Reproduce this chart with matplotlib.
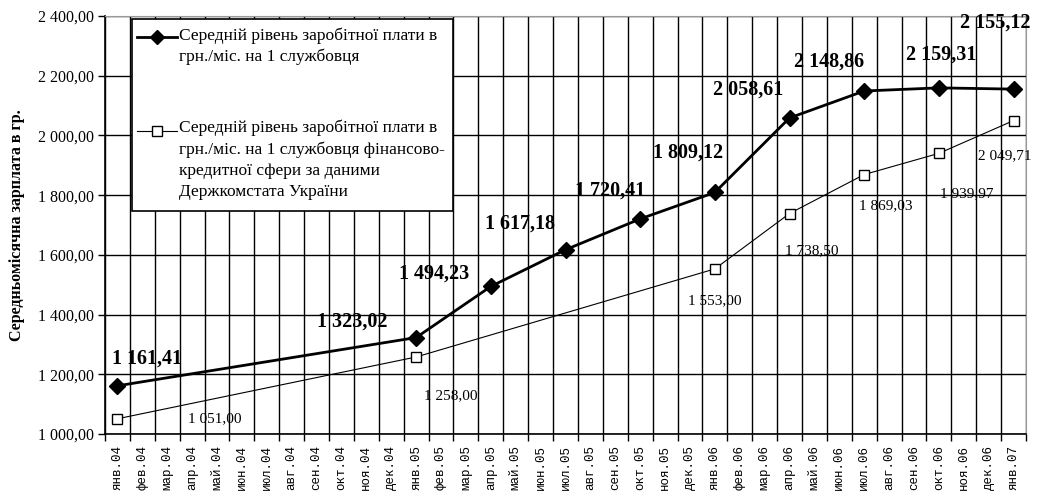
import matplotlib
matplotlib.use("Agg")
import matplotlib.pyplot as plt
from matplotlib.ticker import FixedLocator, FuncFormatter
from matplotlib.lines import Line2D
from matplotlib.patches import Rectangle

plt.rcParams['font.family'] = ['Liberation Serif', 'DejaVu Serif']

months = ['янв.04', 'фев.04', 'мар.04', 'апр.04', 'май.04', 'июн.04', 'июл.04',
          'авг.04', 'сен.04', 'окт.04', 'ноя.04', 'дек.04',
          'янв.05', 'фев.05', 'мар.05', 'апр.05', 'май.05', 'июн.05', 'июл.05',
          'авг.05', 'сен.05', 'окт.05', 'ноя.05', 'дек.05',
          'янв.06', 'фев.06', 'мар.06', 'апр.06', 'май.06', 'июн.06', 'июл.06',
          'авг.06', 'сен.06', 'окт.06', 'ноя.06', 'дек.06', 'янв.07']

# середній рівень по підприємству
firm_dates = ['янв.04', 'янв.05', 'апр.05', 'июл.05', 'окт.05', 'янв.06',
              'апр.06', 'июл.06', 'окт.06', 'янв.07']
firm_vals = [1161.41, 1323.02, 1494.23, 1617.18, 1720.41, 1809.12,
             2058.61, 2148.86, 2159.31, 2155.12]

# фінансово-кредитна сфера (Держкомстат)
fin_dates = ['янв.04', 'янв.05', 'янв.06', 'апр.06', 'июл.06', 'окт.06', 'янв.07']
fin_vals = [1051.00, 1258.00, 1553.00, 1738.50, 1869.03, 1939.97, 2049.71]

legend_labels = ['Середній рівень заробітної плати в\nгрн./міс. на 1 службовця',
                 'Середній рівень заробітної плати в\nгрн./міс. на 1 службовця фінансово-\n'
                 'кредитної сфери за даними\nДержкомстата України']

# зсуви підписів, пікселі
firm_off = [(30, 27), (-64, 16), (-57, 13), (-46, 26), (-30, 28), (-27, 40),
            (-41, 28), (-35, 29), (2, 33), (-18, 67)]
fin_off = [(97, 0), (35, -39), (0, -32), (22, -37), (22, -31), (28, -40), (-9, -35)]


def fmt(v):
    s = '{:,.2f}'.format(v)
    return s.replace(',', ' ').replace('.', ',')


W, H = 1042, 501
fig = plt.figure(figsize=(W / 100, H / 100), dpi=100)
ax = fig.add_axes([105 / W, (H - 434) / H, (1026 - 105) / W, (434 - 16) / H])

x1 = [months.index(d) for d in firm_dates]
x2 = [months.index(d) for d in fin_dates]

ax.plot(x2, fin_vals, color='black', lw=0.8, marker='s', ms=7.5,
        mfc='white', mec='black', mew=1, zorder=3)
ax.plot(x1, firm_vals, color='black', lw=2, marker='D', ms=8,
        mfc='black', mec='black', zorder=4)

for x, v, (dx, dy) in zip(x1, firm_vals, firm_off):
    ax.annotate(fmt(v), (x, v), xytext=(dx, dy), textcoords='offset pixels',
                ha='center', va='center', fontsize=14.5, fontweight='bold')
for x, v, (dx, dy) in zip(x2, fin_vals, fin_off):
    ax.annotate(fmt(v), (x, v), xytext=(dx, dy), textcoords='offset pixels',
                ha='center', va='center', fontsize=11)

ax.set_xlim(-0.5, len(months) - 0.5)
ax.set_ylim(1000, 2400)
ax.set_yticks(range(1000, 2401, 200))
ax.yaxis.set_major_formatter(FuncFormatter(lambda v, p: fmt(v)))
ax.set_xticks(range(len(months)))
ax.set_xticklabels(months, rotation=90, fontsize=9, family='Liberation Mono')
ax.xaxis.set_minor_locator(FixedLocator([i + 0.5 for i in range(-1, len(months))]))
ax.tick_params(axis='x', which='major', length=0, pad=8)
ax.tick_params(axis='x', which='minor', length=5, width=1, color='black')
ax.tick_params(axis='y', length=5, width=1, labelsize=11.5, pad=3)
ax.grid(axis='x', which='minor', color='black', lw=1)
ax.grid(axis='y', which='major', color='black', lw=1)
ax.set_axisbelow(True)
for s in ['top', 'right']:
    ax.spines[s].set_color('#999999')
for s in ['left', 'bottom']:
    ax.spines[s].set_linewidth(1.2)

fig.text(17 / W, 1 - 225 / H, 'Середньомісячна зарплата в гр.', rotation=90,
         ha='center', va='center', fontsize=11.5, fontweight='bold')

# легенда
def fx(px):
    return px / W


def fy(py):
    return 1 - py / H


fig.add_artist(Rectangle((fx(132), fy(211)), (453 - 132) / W, (211 - 19) / H,
                         transform=fig.transFigure, facecolor='white',
                         edgecolor='black', lw=1.2, zorder=10))
fig.add_artist(Line2D([fx(137), fx(177)], [fy(37), fy(37)], color='black', lw=2,
                      zorder=11))
fig.add_artist(Line2D([fx(157)], [fy(37)], color='black', marker='D', ms=7, zorder=11))
fig.add_artist(Line2D([fx(137), fx(177)], [fy(131), fy(131)], color='black', lw=0.8,
                      zorder=11))
fig.add_artist(Line2D([fx(157)], [fy(131)], color='black', marker='s', ms=7,
                      mfc='white', mec='black', zorder=11))
fig.text(fx(179), fy(27), legend_labels[0], ha='left', va='top', fontsize=12.5,
         linespacing=1.4, zorder=12)
fig.text(fx(179), fy(120), legend_labels[1], ha='left', va='top', fontsize=12.5,
         linespacing=1.4, zorder=12)

fig.savefig('out.png', dpi=100)
